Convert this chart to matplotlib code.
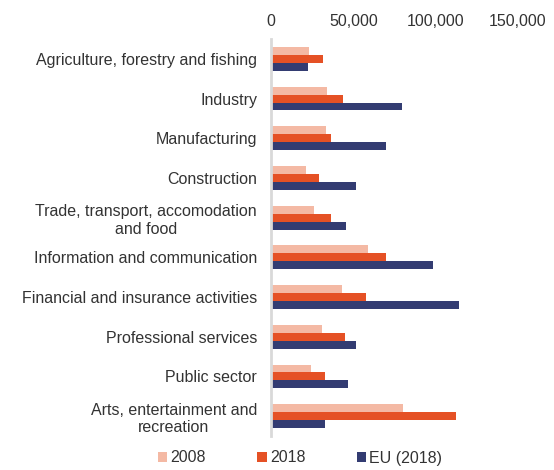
import matplotlib
matplotlib.use("Agg")
import matplotlib.pyplot as plt
import numpy as np
from matplotlib.ticker import FuncFormatter

plt.rcParams['font.family'] = ['Liberation Sans', 'DejaVu Sans']

categories = [
    "Agriculture, forestry and fishing",
    "Industry",
    "Manufacturing",
    "Construction",
    "Trade, transport, accomodation\nand food",
    "Information and communication",
    "Financial and insurance activities",
    "Professional services",
    "Public sector",
    "Arts, entertainment and\nrecreation",
]
series_names = ["2008", "2018", "EU (2018)"]
v2008 = [23200, 34300, 33500, 21300, 26000, 58700, 42900, 30700, 24200, 80300]
v2018 = [31700, 43900, 36400, 28900, 36400, 70100, 57900, 44900, 32700, 112400]
veu = [22400, 79500, 70100, 51400, 45700, 98200, 114000, 51400, 46800, 32500]
xticks = [0, 50000, 100000, 150000]

colors = ["#F4B9A4", "#E55125", "#333C72"]

fig = plt.figure(figsize=(5.54, 4.70), dpi=100)
ax = fig.add_axes([271/554, 1 - 436/470, (518-271)/554, (436-39)/470])

y = np.arange(len(categories))
h = 0.2
for i, (vals, c, name) in enumerate(zip([v2008, v2018, veu], colors, series_names)):
    ax.barh(y + (i - 1) * h, vals, height=h, color=c, label=name)

fs = 11.5
ax.set_ylim(len(categories) - 0.5, -0.5)
ax.set_xlim(0, 150000)
ax.set_xticks(xticks)
ax.xaxis.set_major_formatter(FuncFormatter(lambda v, p: f"{int(v):,}"))
ax.xaxis.tick_top()
ax.tick_params(axis='x', length=0, pad=7, labelsize=fs, colors='#333333')
ax.set_yticks(y)
ax.set_yticklabels(categories, multialignment='center')
ax.tick_params(axis='y', length=0, pad=10, labelsize=fs, colors='#333333')
for s in ["top", "right", "bottom"]:
    ax.spines[s].set_visible(False)
ax.spines["left"].set_color("#D9D9D9")
ax.spines["left"].set_linewidth(2)

leg = fig.legend(loc='center', bbox_to_anchor=(300/554, 1 - 458/470), ncol=3,
                 frameon=False, fontsize=fs, handlelength=0.6, handleheight=0.6,
                 handletextpad=0.2, columnspacing=3.2)
for t in leg.get_texts():
    t.set_color('#333333')

fig.savefig("out.png", dpi=100)
